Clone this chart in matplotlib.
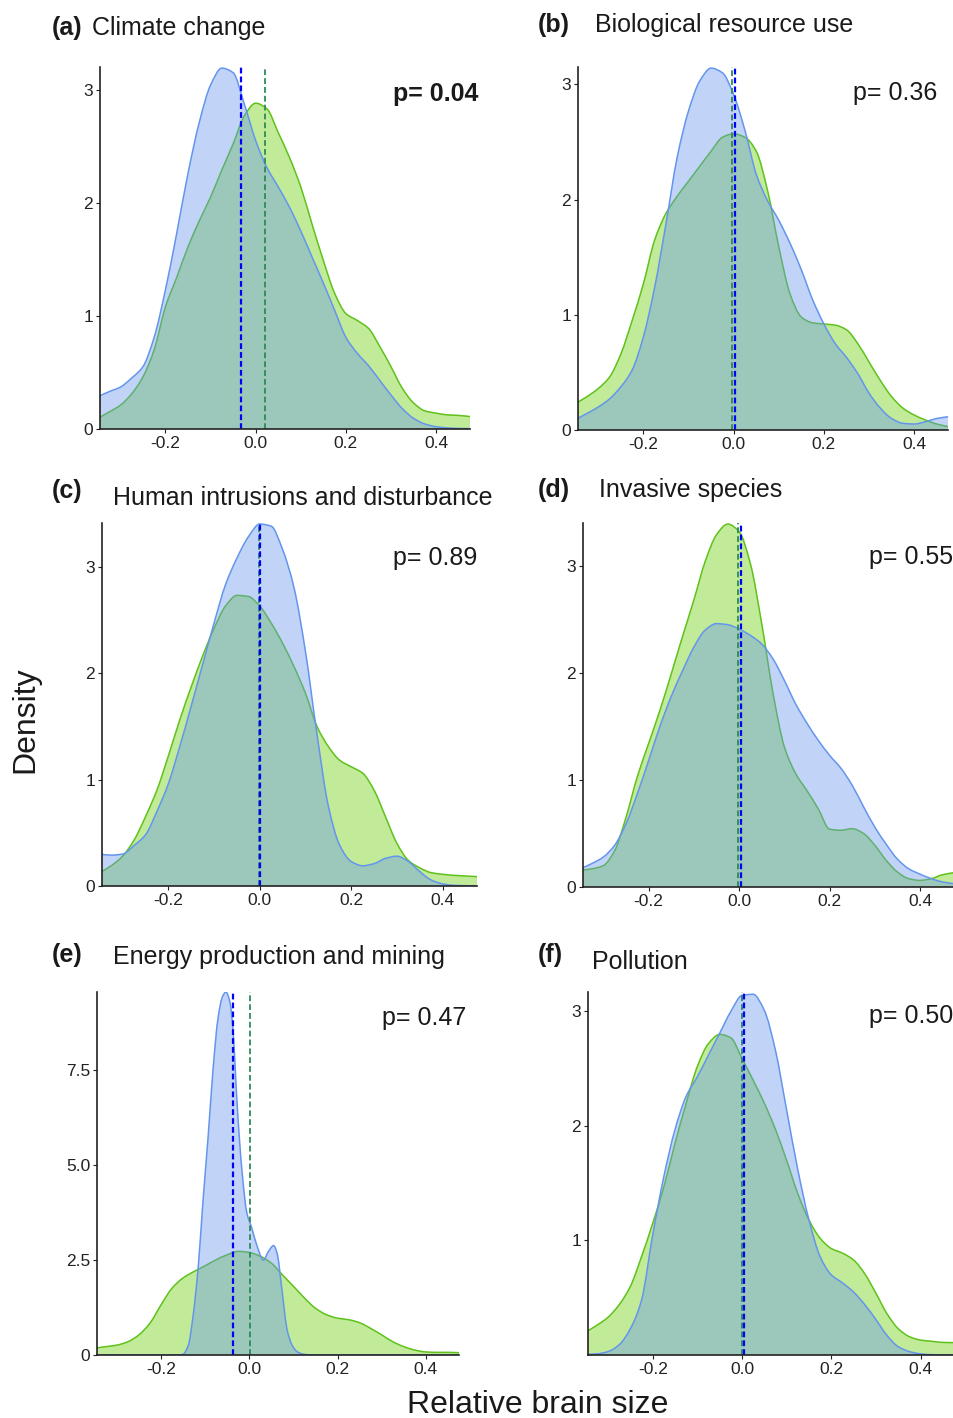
import matplotlib
matplotlib.use("Agg")
import matplotlib.pyplot as plt
from matplotlib.path import Path
from matplotlib.patches import PathPatch

plt.rcParams['font.family'] = ['Liberation Sans', 'DejaVu Sans']
plt.rcParams['axes.unicode_minus'] = False

# ---------------- data ----------------
x_grid = [-0.35, -0.325, -0.3, -0.275, -0.25, -0.225, -0.2, -0.175, -0.15, -0.125,
          -0.1, -0.075, -0.05, -0.025, 0.0, 0.025, 0.05, 0.075, 0.1, 0.125,
          0.15, 0.175, 0.2, 0.225, 0.25, 0.275, 0.3, 0.325, 0.35, 0.375,
          0.4, 0.425, 0.45, 0.475]

# (a) Climate change
a_blue = [0.285, 0.33, 0.37, 0.45, 0.55, 0.81, 1.23, 1.73, 2.26, 2.71,
          3.04, 3.19, 3.15, 2.87, 2.55, 2.31, 2.14, 1.96, 1.75, 1.52,
          1.29, 1.05, 0.81, 0.67, 0.56, 0.43, 0.30, 0.18, 0.094, 0.044,
          0.02, 0.01, 0.005, 0.003]
a_green = [0.094, 0.15, 0.21, 0.31, 0.46, 0.70, 1.08, 1.34, 1.61, 1.84,
           2.05, 2.29, 2.52, 2.77, 2.88, 2.83, 2.62, 2.40, 2.14, 1.81,
           1.49, 1.20, 1.02, 0.96, 0.89, 0.73, 0.55, 0.36, 0.23, 0.16,
           0.14, 0.125, 0.12, 0.11]

# (b) Biological resource use
b_blue = [0.092, 0.144, 0.20, 0.27, 0.375, 0.52, 0.81, 1.24, 1.79, 2.37,
          2.77, 3.03, 3.14, 3.10, 2.91, 2.60, 2.22, 1.99, 1.82, 1.62,
          1.39, 1.13, 0.92, 0.75, 0.63, 0.49, 0.32, 0.19, 0.10, 0.058,
          0.052, 0.072, 0.10, 0.115]
b_green = [0.23, 0.29, 0.36, 0.46, 0.66, 0.95, 1.27, 1.65, 1.88, 2.03,
           2.16, 2.29, 2.42, 2.54, 2.57, 2.54, 2.42, 2.08, 1.59, 1.18,
           0.98, 0.93, 0.92, 0.91, 0.87, 0.75, 0.59, 0.43, 0.29, 0.19,
           0.13, 0.087, 0.052, 0.03]

# (c) Human intrusions and disturbance
c_blue = [0.30, 0.29, 0.30, 0.38, 0.48, 0.70, 0.96, 1.31, 1.69, 2.08,
          2.47, 2.83, 3.08, 3.28, 3.40, 3.38, 3.16, 2.80, 2.20, 1.43,
          0.75, 0.38, 0.23, 0.19, 0.21, 0.26, 0.28, 0.23, 0.135, 0.056,
          0.02, 0.006, 0.003, 0.001]
c_green = [0.125, 0.19, 0.28, 0.43, 0.65, 0.90, 1.22, 1.56, 1.87, 2.16,
           2.42, 2.63, 2.73, 2.72, 2.63, 2.47, 2.28, 2.06, 1.81, 1.50,
           1.31, 1.18, 1.12, 1.06, 0.90, 0.65, 0.40, 0.24, 0.17, 0.125,
           0.11, 0.10, 0.094, 0.088]

# (d) Invasive species
d_blue = [0.17, 0.22, 0.28, 0.39, 0.59, 0.87, 1.18, 1.50, 1.78, 2.02,
          2.24, 2.40, 2.46, 2.45, 2.41, 2.35, 2.27, 2.13, 1.93, 1.71,
          1.53, 1.37, 1.23, 1.11, 0.95, 0.75, 0.56, 0.40, 0.26, 0.17,
          0.12, 0.078, 0.047, 0.031]
d_green = [0.156, 0.17, 0.20, 0.34, 0.65, 1.03, 1.34, 1.65, 1.99, 2.34,
           2.68, 3.04, 3.29, 3.39, 3.32, 3.02, 2.46, 1.81, 1.31, 1.06,
           0.90, 0.73, 0.54, 0.53, 0.545, 0.50, 0.39, 0.25, 0.14, 0.078,
           0.062, 0.078, 0.115, 0.134]

# (e) Energy production and mining
e_green = [0.18, 0.22, 0.26, 0.35, 0.53, 0.84, 1.32, 1.76, 2.03, 2.20,
           2.35, 2.51, 2.64, 2.73, 2.70, 2.60, 2.42, 2.11, 1.81, 1.50,
           1.23, 1.06, 0.97, 0.93, 0.85, 0.70, 0.53, 0.35, 0.22, 0.13,
           0.08, 0.07, 0.07, 0.06]
e_blue_x = [-0.35, -0.2, -0.16, -0.15, -0.138, -0.128, -0.116, -0.105, -0.093, -0.082,
            -0.071, -0.061, -0.053, -0.044, -0.036, -0.030, -0.023, -0.015, -0.006, 0.006,
            0.017, 0.032, 0.043, 0.055, 0.064, 0.070, 0.078, 0.085, 0.097, 0.108,
            0.123, 0.14, 0.475]
e_blue = [0.0, 0.0, 0.0, 0.02, 0.26, 0.97, 2.28, 4.04, 5.79, 7.54,
          8.86, 9.43, 9.56, 9.30, 8.42, 7.10, 5.79, 4.65, 3.77, 3.33,
          2.89, 2.50, 2.72, 2.88, 2.63, 2.10, 1.32, 0.70, 0.26, 0.09,
          0.02, 0.0, 0.0]

# (f) Pollution
f_blue = [0.005, 0.01, 0.03, 0.09, 0.23, 0.48, 1.05, 1.56, 1.97, 2.26,
          2.43, 2.62, 2.81, 3.00, 3.14, 3.15, 3.01, 2.66, 2.14, 1.62,
          1.18, 0.86, 0.70, 0.63, 0.55, 0.44, 0.31, 0.17, 0.073, 0.03,
          0.01, 0.003, 0.001, 0.0]
f_green = [0.20, 0.26, 0.33, 0.44, 0.60, 0.86, 1.15, 1.47, 1.85, 2.20,
           2.52, 2.72, 2.80, 2.77, 2.59, 2.40, 2.20, 1.97, 1.70, 1.41,
           1.18, 1.02, 0.93, 0.89, 0.83, 0.71, 0.54, 0.36, 0.23, 0.16,
           0.13, 0.12, 0.11, 0.108]

letters = ['(a)', '(b)', '(c)', '(d)', '(e)', '(f)']
titles = ['Climate change', 'Biological resource use', 'Human intrusions and disturbance',
          'Invasive species', 'Energy production and mining', 'Pollution']
p_labels = ['p= 0.04', 'p= 0.36', 'p= 0.89', 'p= 0.55', 'p= 0.47', 'p= 0.50']
p_bold = [True, False, False, False, False, False]
blue_means = [-0.033, 0.002, 0.0015, 0.0044, -0.036, 0.0044]
green_means = [0.020, -0.004, -0.002, -0.0015, 0.001, -0.001]
y_max = [3.2, 3.15, 3.41, 3.40, 9.56, 3.17]
x_ticks = [-0.2, 0.0, 0.2, 0.4]
x_tick_labels = ['-0.2', '0.0', '0.2', '0.4']
y_ticks = [[0, 1, 2, 3], [0, 1, 2, 3], [0, 1, 2, 3], [0, 1, 2, 3], [0, 2.5, 5.0, 7.5], [1, 2, 3]]
y_tick_labels = [['0', '1', '2', '3'], ['0', '1', '2', '3'], ['0', '1', '2', '3'],
                 ['0', '1', '2', '3'], ['0', '2.5', '5.0', '7.5'], ['1', '2', '3']]

blue_series = [(x_grid, a_blue), (x_grid, b_blue), (x_grid, c_blue),
               (x_grid, d_blue), (e_blue_x, e_blue), (x_grid, f_blue)]
green_series = [(x_grid, a_green), (x_grid, b_green), (x_grid, c_green),
                (x_grid, d_green), (x_grid, e_green), (x_grid, f_green)]


def smooth_path(xs, ys, closed=False):
    """Bezier path passing through the read points (monotone cubic tangents)."""
    n = len(xs)
    h = [xs[k + 1] - xs[k] for k in range(n - 1)]
    dl = [(ys[k + 1] - ys[k]) / h[k] for k in range(n - 1)]
    d = [0.0] * n
    d[0] = dl[0]
    d[-1] = dl[-1]
    for k in range(1, n - 1):
        if dl[k - 1] * dl[k] <= 0:
            d[k] = 0.0
        else:
            w1 = 2 * h[k] + h[k - 1]
            w2 = h[k] + 2 * h[k - 1]
            d[k] = (w1 + w2) / (w1 / dl[k - 1] + w2 / dl[k])
    verts = [(xs[0], ys[0])]
    codes = [Path.MOVETO]
    for k in range(n - 1):
        verts += [(xs[k] + h[k] / 3, ys[k] + d[k] * h[k] / 3),
                  (xs[k + 1] - h[k] / 3, ys[k + 1] - d[k + 1] * h[k] / 3),
                  (xs[k + 1], ys[k + 1])]
        codes += [Path.CURVE4] * 3
    if closed:
        verts += [(xs[-1], 0.0), (xs[0], 0.0), (xs[0], ys[0])]
        codes += [Path.LINETO, Path.LINETO, Path.CLOSEPOLY]
    return Path(verts, codes)


# ---------------- layout / style ----------------
W, H = 954, 1418
fig = plt.figure(figsize=(W / 100, H / 100), dpi=100)

# axes boxes in pixels: left, top, right, bottom
boxes = [(100, 67, 470, 429), (578, 67, 948, 430),
         (102, 523, 477, 886), (583, 523, 954, 887),
         (97, 992, 459, 1355), (588, 992, 954, 1355)]
title_pos = [(52, 92, 35, 35), (538, 595, 32, 32), (52, 113, 498, 505),
             (538, 599, 497, 497), (52, 113, 962, 964), (538, 592, 962, 969)]
p_pos = [(478, 101), (937, 100), (477, 565), (953, 564), (466, 1025), (953, 1023)]

BLUE_LINE = '#6495ED'
GREEN_LINE = '#5FC21A'
GREEN_FILL = '#66CC00'
BLUE_DASH = '#0000FF'
GREEN_DASH = '#2E8B57'
TXT = '#1a1a1a'

for i in range(6):
    l, t, r, b = boxes[i]
    ax = fig.add_axes([l / W, 1 - b / H, (r - l) / W, (b - t) / H])
    gx, gy = green_series[i]
    bx, by = blue_series[i]
    ax.add_patch(PathPatch(smooth_path(gx, gy, True), facecolor=GREEN_FILL,
                           alpha=0.4, linewidth=0))
    ax.add_patch(PathPatch(smooth_path(gx, gy), facecolor='none',
                           edgecolor=GREEN_LINE, lw=1.1))
    ax.add_patch(PathPatch(smooth_path(bx, by, True), facecolor=BLUE_LINE,
                           alpha=0.4, linewidth=0))
    ax.add_patch(PathPatch(smooth_path(bx, by), facecolor='none',
                           edgecolor=BLUE_LINE, lw=1.1))
    ax.axvline(green_means[i], color=GREEN_DASH, lw=1.3, dashes=(3.2, 1.7))
    ax.axvline(blue_means[i], color=BLUE_DASH, lw=1.6, dashes=(2.6, 1.4))
    ax.set_xlim(-0.345, 0.475)
    ax.set_ylim(0, y_max[i])
    ax.set_xticks(x_ticks)
    ax.set_xticklabels(x_tick_labels)
    ax.set_yticks(y_ticks[i])
    ax.set_yticklabels(y_tick_labels[i])
    for s in ['top', 'right']:
        ax.spines[s].set_visible(False)
    for s in ['left', 'bottom']:
        ax.spines[s].set_color('#222222')
        ax.spines[s].set_linewidth(1.2)
        ax.spines[s].set_zorder(5)
    ax.tick_params(axis='both', direction='out', length=3, width=0.8,
                   colors='#222222', labelsize=12.5, pad=2)
    ax.patch.set_alpha(0)

    lx, tx, ly, ty = title_pos[i]
    fig.text(lx / W, 1 - ly / H, letters[i], fontsize=18, fontweight='bold',
             color=TXT, ha='left', va='baseline')
    fig.text(tx / W, 1 - ty / H, titles[i], fontsize=18, color=TXT,
             ha='left', va='baseline')
    px, py = p_pos[i]
    fig.text(px / W, 1 - py / H, p_labels[i], fontsize=18,
             fontweight='bold' if p_bold[i] else 'normal', color=TXT,
             ha='right', va='baseline')

fig.text(25 / W, 1 - 720 / H, 'Density', fontsize=23, rotation=90,
         ha='center', va='center', color=TXT)
fig.text(538 / W, 1 - 1413 / H, 'Relative brain size', fontsize=23,
         ha='center', va='baseline', color=TXT)

fig.savefig('out.png', dpi=100)
